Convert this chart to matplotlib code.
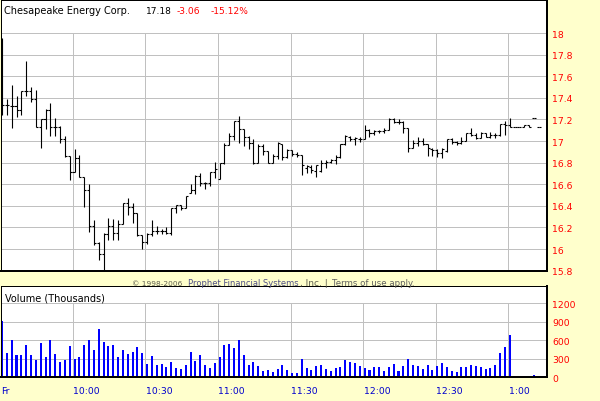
import matplotlib
matplotlib.use('Agg')
import matplotlib.pyplot as plt
from matplotlib.transforms import blended_transform_factory
from matplotlib.ticker import FormatStrFormatter
import numpy as np

# ---------------- data (2-minute bars, 9:30 -> ~1:02) ----------------
opens = [17.73, 17.33, 17.32, 17.32, 17.29, 17.46, 17.46, 17.39, 17.13, 17.20,
         17.29, 17.13, 17.13, 17.02, 16.86, 16.71, 16.84, 16.67, 16.55, 16.21,
         16.06, 15.95, 16.14, 16.21, 16.15, 16.23, 16.43, 16.39, 16.33, 16.13,
         16.07, 16.14, 16.17, 16.17, 16.17, 16.15, 16.38, 16.41, 16.38, 16.52,
         16.55, 16.68, 16.61, 16.61, 16.71, 16.65, 16.80, 16.96, 17.05, 17.19,
         17.11, 17.04, 16.98, 16.80, 16.95, 16.91, 16.80, 16.86, 16.97, 16.85,
         16.92, 16.88, 16.87, 16.75, 16.76, 16.72, 16.72, 16.80, 16.81, 16.82,
         16.85, 16.97, 17.04, 17.02, 17.02, 17.02, 17.10, 17.07, 17.09, 17.09,
         17.10, 17.20, 17.18, 17.18, 17.12, 16.94, 16.98, 17.00, 16.97, 16.93,
         16.92, 16.89, 16.91, 17.02, 16.99, 16.98, 17.00, 17.07, 17.06, 17.03,
         17.07, 17.04, 17.06, 17.06, 17.16, 17.15, 17.13, 17.13, 17.13, 17.15,
         17.21, 17.13]
highs = [17.95, 17.39, 17.52, 17.42, 17.46, 17.74, 17.50, 17.47, 17.20, 17.30,
         17.35, 17.21, 17.14, 17.05, 16.86, 16.93, 16.87, 16.67, 16.60, 16.27,
         16.07, 16.15, 16.29, 16.28, 16.27, 16.43, 16.47, 16.43, 16.33, 16.13,
         16.15, 16.27, 16.21, 16.19, 16.20, 16.38, 16.41, 16.41, 16.49, 16.60,
         16.69, 16.70, 16.62, 16.71, 16.81, 16.80, 16.98, 17.07, 17.19, 17.23,
         17.11, 17.05, 17.02, 16.97, 16.97, 16.91, 16.88, 16.99, 16.97, 16.93,
         16.92, 16.90, 16.87, 16.78, 16.78, 16.78, 16.82, 16.82, 16.83, 16.87,
         16.97, 17.06, 17.05, 17.04, 17.04, 17.15, 17.11, 17.10, 17.10, 17.12,
         17.21, 17.21, 17.20, 17.19, 17.12, 17.01, 17.04, 17.03, 16.97, 16.94,
         16.93, 16.94, 17.02, 17.03, 17.00, 17.04, 17.07, 17.12, 17.07, 17.08,
         17.07, 17.08, 17.07, 17.16, 17.19, 17.21, 17.13, 17.13, 17.15, 17.15,
         17.21, 17.13]
lows = [17.24, 17.24, 17.12, 17.22, 17.24, 17.42, 17.36, 17.13, 16.94, 17.11,
        17.05, 17.05, 16.98, 16.85, 16.64, 16.71, 16.67, 16.39, 16.16, 16.04,
        15.90, 15.81, 16.08, 16.08, 16.08, 16.23, 16.32, 16.24, 16.12, 16.00,
        16.05, 16.12, 16.14, 16.14, 16.14, 16.13, 16.33, 16.36, 16.38, 16.52,
        16.51, 16.58, 16.56, 16.58, 16.66, 16.65, 16.79, 16.96, 17.01, 16.98,
        16.95, 16.93, 16.79, 16.80, 16.87, 16.80, 16.80, 16.83, 16.82, 16.84,
        16.86, 16.85, 16.69, 16.70, 16.70, 16.67, 16.71, 16.75, 16.80, 16.79,
        16.84, 16.96, 17.00, 16.96, 16.99, 17.02, 17.04, 17.06, 17.07, 17.07,
        17.10, 17.17, 17.16, 17.07, 16.90, 16.94, 16.95, 16.96, 16.86, 16.86,
        16.85, 16.84, 16.90, 16.97, 16.96, 16.97, 17.00, 17.05, 17.02, 17.03,
        17.04, 17.03, 17.03, 17.05, 17.06, 17.13, 17.13, 17.13, 17.13, 17.13,
        17.21, 17.13]
closes = [17.33, 17.33, 17.32, 17.29, 17.46, 17.46, 17.39, 17.13, 17.20, 17.29,
          17.13, 17.13, 17.02, 16.86, 16.71, 16.84, 16.67, 16.55, 16.21, 16.06,
          15.95, 16.14, 16.21, 16.15, 16.23, 16.43, 16.39, 16.33, 16.13, 16.07,
          16.14, 16.17, 16.17, 16.17, 16.15, 16.38, 16.41, 16.38, 16.49, 16.55,
          16.68, 16.61, 16.61, 16.71, 16.74, 16.80, 16.96, 17.05, 17.19, 17.11,
          17.04, 16.98, 16.80, 16.95, 16.91, 16.80, 16.86, 16.98, 16.85, 16.92,
          16.88, 16.87, 16.78, 16.77, 16.73, 16.78, 16.80, 16.81, 16.82, 16.85,
          16.97, 17.05, 17.02, 17.03, 17.02, 17.10, 17.07, 17.09, 17.09, 17.10,
          17.20, 17.18, 17.18, 17.12, 16.94, 16.98, 17.00, 16.97, 16.94, 16.92,
          16.89, 16.93, 17.02, 16.99, 16.98, 17.00, 17.07, 17.06, 17.03, 17.07,
          17.04, 17.06, 17.06, 17.16, 17.15, 17.13, 17.13, 17.13, 17.15, 17.13,
          17.21, 17.13]
volumes = [915, 393, 608, 360, 360, 522, 360, 285, 554, 328,
           603, 377, 247, 285, 506, 296, 328, 522, 603, 447,
           780, 576, 511, 522, 328, 441, 377, 409, 490, 393,
           215, 344, 199, 215, 167, 247, 150, 140, 199, 409,
           264, 360, 199, 150, 231, 328, 516, 538, 473, 603,
           360, 199, 247, 183, 102, 118, 86, 134, 199, 118,
           70, 65, 296, 150, 124, 183, 199, 134, 102, 150,
           167, 280, 247, 231, 183, 150, 118, 167, 167, 102,
           167, 215, 102, 183, 296, 199, 183, 134, 199, 118,
           183, 231, 167, 102, 86, 167, 167, 199, 183, 167,
           134, 150, 199, 393, 490, 683, 11, 11, 11, 11,
           38, 11]
time_labels = ["Fr", "10:00", "10:30", "11:00", "11:30", "12:00", "12:30", "1:00"]
price_ticks = [15.8, 16.0, 16.2, 16.4, 16.6, 16.8, 17.0, 17.2, 17.4, 17.6, 17.8, 18.0]
vol_ticks = [0, 300, 600, 900, 1200]
company = "Chesapeake Energy Corp."
last_price = "17.18"
change = "-3.06"
change_pct = "-15.12%"

# ---------------- layout ----------------
W, H = 600, 402
BG = '#FFFFCC'
GRID = '#C0C0C0'
PX = 0.72  # 1 pixel in points
fig = plt.figure(figsize=(W / 100, H / 100), dpi=100, facecolor=BG)


def rect(x0, y0, x1, y1):
    return [x0 / W, 1 - y1 / H, (x1 - x0) / W, (y1 - y0) / H]


def ypx(y):
    return 1 - y / H


n = len(closes)
idx = np.arange(n)
XL = (-0.31, 112.71)
grid_x = [14.67 + 15 * k for k in range(7)]
label_x = [XL[0]] + grid_x


def style_box(ax, lw_right=2, lw_bottom=1, lw_top=1, lw_left=1):
    ax.set_facecolor('white')
    for side, lw in (('left', lw_left), ('right', lw_right), ('top', lw_top), ('bottom', lw_bottom)):
        if lw:
            ax.spines[side].set_linewidth(lw * PX)
            ax.spines[side].set_color('black')
        else:
            ax.spines[side].set_visible(False)


# header box (price)
hax = fig.add_axes(rect(0.5, 0.5, 547, 34))
hax.set_xticks([]); hax.set_yticks([])
style_box(hax)

fig.text(4 / W, ypx(14.3), company, fontsize=7, color='black', va='baseline')
fig.text(145.7 / W, ypx(14.3), last_price, fontsize=6.6, color='black', va='baseline')
fig.text(176.7 / W, ypx(14.3), change, fontsize=6.6, color='#FF0000', va='baseline')
fig.text(210.7 / W, ypx(14.3), change_pct, fontsize=6.6, color='#FF0000', va='baseline')

# price panel
ax = fig.add_axes(rect(0.5, 34, 547, 271.7))
style_box(ax, lw_right=2, lw_bottom=2, lw_top=0)
ax.set_xlim(*XL)
ax.set_ylim(price_ticks[0], price_ticks[-1])
ax.set_yticks(price_ticks)
ax.yaxis.set_major_formatter(FormatStrFormatter('%g'))
ax.yaxis.tick_right()
ax.tick_params(axis='y', length=0, pad=3.8, labelcolor='#FF0000', labelsize=6.7)
ax.set_xticks(grid_x)
ax.tick_params(axis='x', length=0, labelbottom=False)
ax.grid(True, color=GRID, lw=PX)
ax.set_axisbelow(True)
LW = 0.8
ax.vlines(idx, lows, highs, color='black', lw=LW, snap=True)
ax.hlines(opens, idx - 0.42, idx, color='black', lw=LW, snap=True)
ax.hlines(closes, idx, idx + 0.42, color='black', lw=LW, snap=True)

# copyright line
cy = ypx(285.7)
cfs = 6.0
t1 = fig.text(131.7 / W, cy, "\u00a9 1998-2006", fontsize=cfs, color='#5f5f50', va='baseline')
t2 = fig.text(187.7 / W, cy, "Prophet Financial Systems", fontsize=cfs, color='#505088', va='baseline')
t3 = fig.text(299.5 / W, cy, ", Inc. |", fontsize=cfs, color='#5f5f50', va='baseline')
t4 = fig.text(331.7 / W, cy, "Terms of use apply.", fontsize=cfs, color='#5f5f5f', va='baseline')

# volume header
vhax = fig.add_axes(rect(0.5, 286.7, 547, 304.3))
vhax.set_xticks([]); vhax.set_yticks([])
style_box(vhax)
fig.text(5 / W, ypx(301.7), "Volume (Thousands)", fontsize=7, color='black', va='baseline')

# volume panel
vax = fig.add_axes(rect(0.5, 304.3, 547, 378.3))
style_box(vax, lw_right=2, lw_bottom=2, lw_top=0)
vax.set_xlim(*XL)
vax.set_ylim(vol_ticks[0], vol_ticks[-1])
vax.set_yticks(vol_ticks)
vax.yaxis.tick_right()
vax.tick_params(axis='y', length=0, pad=3.8, labelcolor='#FF0000', labelsize=6.7)
vax.set_xticks(grid_x)
vax.tick_params(axis='x', length=0, labelbottom=False)
vax.grid(True, color=GRID, lw=PX)
vax.set_axisbelow(True)
vax.bar(idx, volumes, width=0.42, color='#0000FF', antialiased=False)

# time labels
tr = blended_transform_factory(vax.transData, fig.transFigure)
for xpos, lab in zip(label_x, time_labels):
    vax.text(xpos + 0.1, ypx(394), lab, transform=tr, fontsize=6.7,
             color='#0000CC', ha='left', va='baseline')

# fit copyright pieces into their measured pixel spans
fig.canvas.draw()
r = fig.canvas.get_renderer()
for t, w_target in ((t1, 50.0), (t2, 111.0), (t3, 28.0), (t4, 83.0)):
    w = t.get_window_extent(r).width
    if w > 0:
        t.set_fontsize(cfs * w_target / w)

fig.savefig('out.png', dpi=100, facecolor=BG)
